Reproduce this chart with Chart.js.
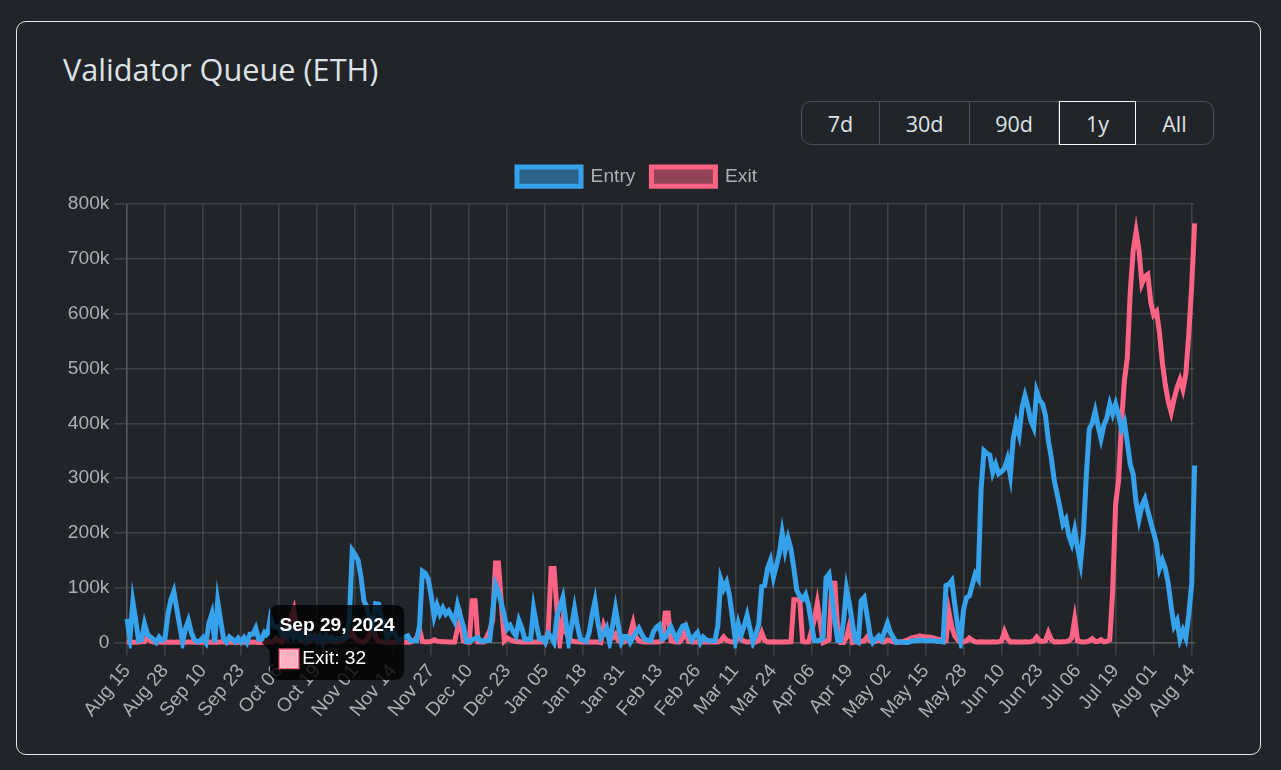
<!DOCTYPE html>
<html>
<head>
<meta charset="utf-8">
<title>Validator Queue (ETH)</title>
<script src="https://cdn.jsdelivr.net/npm/chart.js@4"></script>
<style>
  html, body { margin: 0; height: 100%; background: #212529; overflow: hidden; }
  .card { position: absolute; left: 16px; top: 21px; width: 1243px; height: 732px; border: 1px solid #e4e7ea; border-radius: 10px; }
  h5 { position: absolute; left: 46px; top: 26px; margin: 0; font: 400 30.7px "Open Sans", sans-serif; color: #dee2e6; white-space: nowrap; }
  .range { position: absolute; left: 784px; top: 79px; width: 411px; height: 42px; border: 1.6px solid #495057; border-radius: 10px; display: flex; }
  .range button { background: none; border: 0; border-right: 1px solid #495057; color: #dee2e6; font: 400 21.5px "Open Sans", sans-serif; padding: 0; }
  .range button:last-child { border-right: 0; }
  .range button.active { border: 1px solid #f8f9fa; margin: -1px 0; }
  .plot { position: absolute; left: 43px; top: 129px; width: 1154px; height: 584px; }
</style>
</head>
<body>
<div class="card">
  <h5>Validator Queue (ETH)</h5>
  <div class="range">
    <button style="width:78px">7d</button>
    <button style="width:90px">30d</button>
    <button style="width:89px">90d</button>
    <button class="active" style="width:77px">1y</button>
    <button style="width:77px">All</button>
  </div>
  <div class="plot"><canvas id="queueChart"></canvas></div>
</div>
<script>
const startDate = Date.UTC(2024, 7, 15);
const dayCount = 366;
const tooltipIndex = 45;

const entryValues = [
  43000, 8000, 74000, 40000, 3000, 5000, 34000, 15000, 10000, 6000,
  0, 10000, 4000, 8000, 52000, 78000, 93000, 62000, 31000, 0,
  25000, 40000, 18000, 5000, 1000, 3000, 9000, 0, 35000, 52000,
  0, 75000, 40000, 8000, 1000, 10000, 6000, 1000, 8000, 1000,
  9000, 0, 15000, 15000, 26000, 6000, 6000, 18000, 12000, 45000,
  30000, 28000, 30000, 14000, 22000, 10000, 25000, 8000, 15000, 6000,
  14000, 3000, 18000, 6000, 10000, 2000, 12000, 0, 14000, 5000,
  10000, 3000, 8000, 5000, 12000, 10000, 40000, 168000, 160000, 150000,
  120000, 76000, 65000, 40000, 27000, 71000, 70000, 45000, 30000, 9000,
  15000, 21000, 12000, 3000, 6000, 10000, 12000, 3000, 3000, 3000,
  30000, 130000, 126000, 115000, 85000, 48000, 68000, 52000, 63000, 52000,
  58000, 48000, 38000, 68000, 48000, 30000, 2000, 2000, 5000, 7000,
  9000, 2000, 3000, 3000, 4000, 55000, 105000, 92000, 72000, 48000,
  25000, 31000, 20000, 12000, 40000, 26000, 6000, 6000, 6000, 62000,
  32000, 7000, 8000, 0, 16000, 10000, 0, 48000, 65000, 82000,
  40000, 0, 30000, 62000, 30000, 6000, 4000, 2000, 18000, 50000,
  76000, 36000, 8000, 15000, 26000, 0, 30000, 62000, 30000, 0,
  11000, 11000, 0, 10000, 18000, 26000, 15000, 6000, 4000, 3000,
  20000, 28000, 32000, 6000, 9000, 20000, 28000, 15000, 6000, 20000,
  30000, 32000, 15000, 4000, 12000, 18000, 0, 10000, 5000, 3000,
  3000, 3000, 30000, 115000, 98000, 110000, 85000, 45000, 3000, 34000,
  14000, 30000, 50000, 25000, 0, 15000, 34000, 102000, 104000, 135000,
  150000, 119000, 140000, 162000, 200000, 167000, 190000, 170000, 135000, 95000,
  85000, 79000, 88000, 68000, 35000, 3000, 3000, 4000, 9000, 118000,
  125000, 85000, 40000, 3000, 3000, 40000, 98000, 70000, 35000, 3000,
  0, 76000, 82000, 50000, 15000, 0, 6000, 12000, 5000, 20000,
  35000, 18000, 9000, 0, 1000, 1000, 0, 0, 2000, 3000,
  3000, 4000, 4000, 3000, 3000, 3000, 3000, 2000, 2000, 1000,
  104000, 106000, 113000, 70000, 30000, 2000, 60000, 82000, 85000, 105000,
  125000, 116000, 280000, 350000, 345000, 342000, 310000, 325000, 308000, 312000,
  318000, 335000, 305000, 372000, 400000, 380000, 428000, 450000, 430000, 405000,
  392000, 458000, 442000, 436000, 415000, 368000, 338000, 296000, 271000, 245000,
  216000, 225000, 195000, 180000, 205000, 172000, 145000, 200000, 307000, 390000,
  400000, 422000, 395000, 372000, 397000, 410000, 435000, 417000, 435000, 415000,
  390000, 402000, 365000, 325000, 307000, 255000, 225000, 250000, 262000, 240000,
  220000, 200000, 180000, 135000, 150000, 135000, 107000, 65000, 30000, 40000,
  6000, 22000, 8000, 50000, 107000, 323000
];

const exitValues = [
  500, 400, 300, 600, 800, 1200, 1500, 10000, 3000, 1000,
  700, 900, 600, 800, 500, 700, 600, 900, 400, 600,
  500, 800, 700, 500, 900, 600, 400, 700, 500, 800,
  600, 500, 900, 700, 400, 600, 800, 500, 700, 600,
  500, 900, 600, 700, 500, 32, 600, 800, 500, 700,
  900, 8000, 3000, 1000, 12000, 30000, 45000, 60000, 20000, 6000,
  3000, 1000, 800, 5000, 12000, 3000, 1000, 900, 700, 4000,
  1500, 800, 900, 3000, 6000, 9000, 12000, 18000, 8000, 3000,
  1000, 800, 5000, 15000, 30000, 8000, 2000, 900, 700, 600,
  800, 500, 900, 700, 600, 800, 500, 1000, 3000, 8000,
  24000, 2000, 1000, 1500, 2000, 5000, 2500, 2000, 1500, 1200,
  1000, 900, 800, 25000, 42000, 3000, 1000, 800, 76000, 76000,
  1000, 800, 1200, 10000, 22000, 40000, 145000, 145000, 70000, 3000,
  8000, 5000, 3000, 2000, 1500, 1000, 1200, 900, 800, 1000,
  900, 800, 1200, 1000, 20000, 135000, 135000, 60000, 0, 40000,
  20000, 10000, 3000, 2000, 1500, 1000, 1200, 900, 1500, 1000,
  800, 1000, 0, 30000, 15000, 8000, 8000, 15000, 3000, 1500,
  1200, 5000, 15000, 35000, 10000, 3000, 1500, 1000, 1200, 900,
  1000, 800, 1200, 3000, 54000, 54000, 3000, 1500, 1000, 1200,
  8000, 24000, 2000, 1500, 1000, 1200, 1000, 900, 800, 1000,
  1200, 800, 1000, 3000, 10000, 4000, 2000, 1000, 1200, 9000,
  6000, 2000, 1000, 1200, 3000, 800, 4000, 18000, 4000, 1000,
  1000, 1200, 900, 1000, 800, 1200, 1000, 1500, 78000, 78000,
  78000, 2000, 1000, 1200, 20000, 42000, 72000, 36000, 0, 2000,
  5000, 108000, 108000, 20000, 0, 0, 10000, 32000, 0, 1000,
  1500, 2000, 3000, 10000, 3000, 1500, 2000, 5000, 1500, 1000,
  5000, 3000, 1500, 1000, 1000, 1000, 3000, 5000, 8000, 9000,
  10000, 12000, 11000, 10000, 10000, 9000, 8000, 6000, 5000, 3000,
  3000, 56000, 28000, 12000, 5000, 0, 1000, 3000, 8000, 4000,
  1500, 1000, 1200, 900, 1000, 800, 1200, 1000, 1500, 3000,
  20000, 7000, 1000, 1200, 900, 1000, 800, 1200, 1000, 1500,
  3000, 10000, 3000, 2000, 3000, 18000, 5000, 1000, 1200, 900,
  1500, 2000, 3000, 8000, 42000, 3000, 1200, 1000, 1500, 3000,
  7000, 2000, 2000, 5000, 1000, 2000, 5000, 95000, 253000, 295000,
  400000, 478000, 520000, 640000, 715000, 750000, 715000, 655000, 668000, 672000,
  622000, 598000, 604000, 565000, 510000, 470000, 440000, 420000, 445000, 465000,
  480000, 462000, 490000, 562000, 650000, 765000
];

const tickEvery = 13;
const monthDay = { month: 'short', day: '2-digit', timeZone: 'UTC' };
const fullDay = { month: 'short', day: 'numeric', year: 'numeric', timeZone: 'UTC' };
const categories = [];
const fullDates = [];
for (let i = 0; i < dayCount; i++) {
  const d = new Date(startDate + i * 86400000);
  categories.push(d.toLocaleDateString('en-US', monthDay));
  fullDates.push(d.toLocaleDateString('en-US', fullDay));
}

const fontFamily = '"Liberation Sans", Arial, sans-serif';
const textColor = '#abb0b5';
const gridColor = 'rgba(255,255,255,0.13)';

// écart supplémentaire entre la légende et le graphique
const legendGap = {
  id: 'legendGap',
  beforeInit(chart) {
    const fit = chart.legend.fit;
    chart.legend.fit = function () {
      fit.call(this);
      this.height += 8;
    };
  }
};

const chart = new Chart(document.getElementById('queueChart'), {
  type: 'line',
  plugins: [legendGap],
  data: {
    labels: categories,
    datasets: [
      {
        label: 'Entry',
        data: entryValues,
        borderColor: '#36a2eb',
        backgroundColor: 'rgba(54,162,235,0.5)',
        borderWidth: 5,
        pointRadius: 0,
        tension: 0,
        clip: 6
      },
      {
        label: 'Exit',
        data: exitValues,
        borderColor: '#ff6384',
        backgroundColor: 'rgba(255,99,132,0.5)',
        borderWidth: 5,
        pointRadius: 0,
        tension: 0,
        clip: 6
      }
    ]
  },
  options: {
    responsive: true,
    maintainAspectRatio: false,
    animation: false,
    scales: {
      x: {
        afterBuildTicks: scale => {
          scale.ticks = scale.ticks.filter(t => t.value % tickEvery === 0);
        },
        afterFit: scale => {
          scale.height = 92.5;
          scale.paddingRight = 19.4;
        },
        grid: { color: gridColor, lineWidth: 1.6, tickLength: 12.8 },
        border: { color: gridColor, width: 1.6 },
        ticks: {
          autoSkip: false,
          minRotation: 50,
          maxRotation: 50,
          padding: 4.8,
          color: textColor,
          font: { family: fontFamily, size: 19.2 }
        }
      },
      y: {
        min: 0,
        max: 800000,
        afterFit: scale => { scale.width = 67; },
        grid: { color: gridColor, lineWidth: 1.6, tickLength: 12.8 },
        border: { color: gridColor, width: 1.6 },
        ticks: {
          stepSize: 100000,
          padding: 4.8,
          color: textColor,
          font: { family: fontFamily, size: 19.2 },
          callback: value => value === 0 ? '0' : (value / 1000) + 'k'
        }
      }
    },
    plugins: {
      legend: {
        position: 'top',
        labels: {
          boxWidth: 64,
          padding: 16,
          color: textColor,
          font: { family: fontFamily, size: 19.2 }
        }
      },
      tooltip: {
        backgroundColor: 'rgba(0,0,0,0.8)',
        titleFont: { family: fontFamily, size: 19.2, weight: 'bold' },
        bodyFont: { family: fontFamily, size: 19.2 },
        padding: 9.6,
        cornerRadius: 9.6,
        caretSize: 8,
        caretPadding: 3.2,
        titleMarginBottom: 9.6,
        boxPadding: 1.6,
        callbacks: {
          title: items => fullDates[items[0].dataIndex],
          labelColor: () => ({ borderColor: '#ff6384', backgroundColor: '#ffb1c1', borderWidth: 1.6 })
        }
      }
    }
  }
});

// tooltip visible dans la capture de référence
chart.tooltip.setActiveElements([{ datasetIndex: 1, index: tooltipIndex }], { x: 0, y: 0 });
chart.update();
</script>
</body>
</html>
